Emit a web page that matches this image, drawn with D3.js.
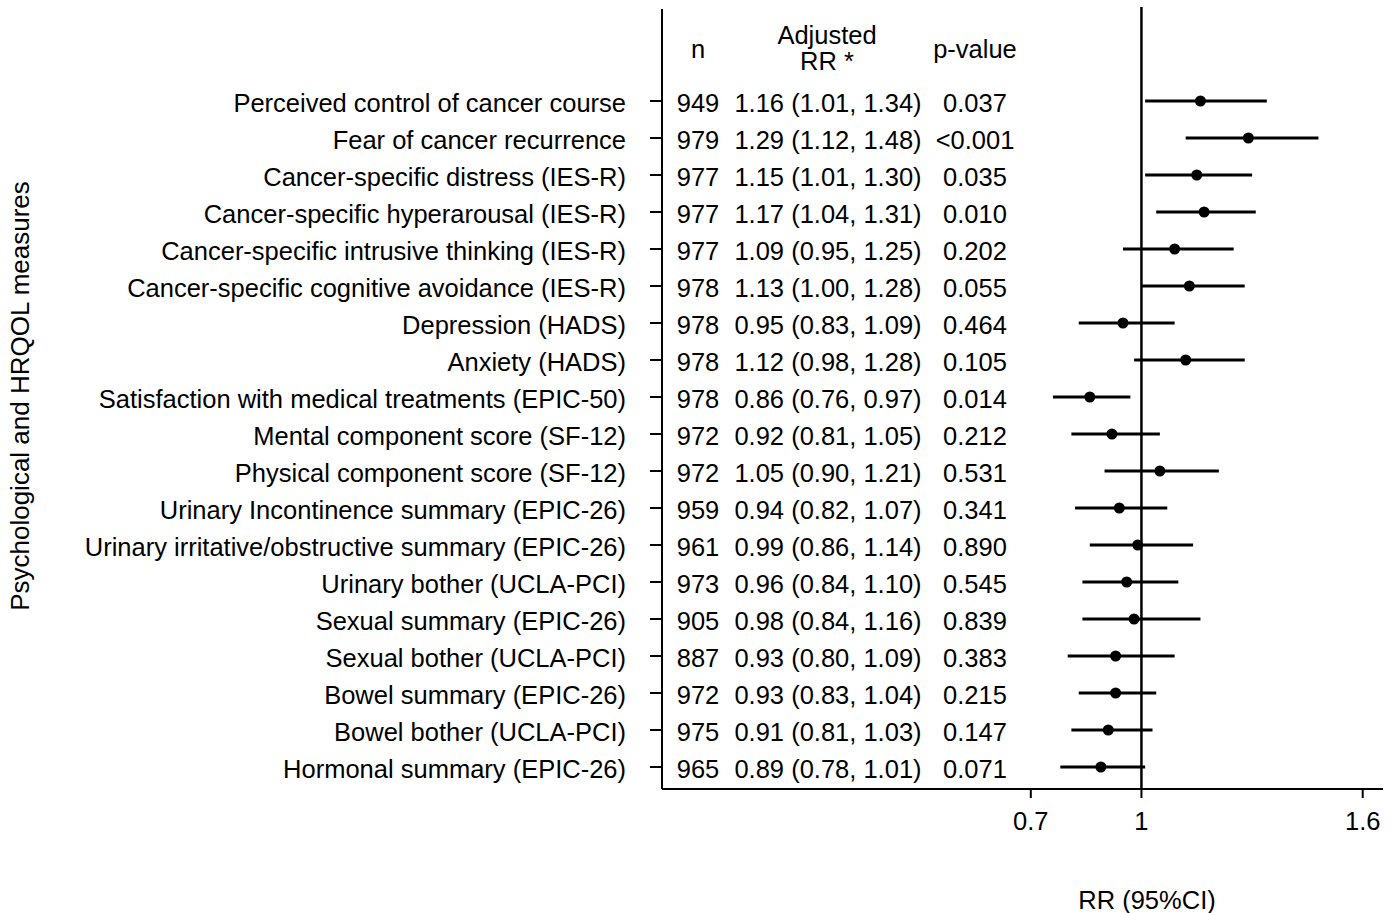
<!DOCTYPE html>
<html>
<head>
<meta charset="utf-8">
<script src="https://cdn.jsdelivr.net/npm/d3@7"></script>
<style>
  body { margin: 0; background: #fff; }
  text { font-family: 'Liberation Sans', Arial, sans-serif; fill: #000; }
</style>
</head>
<body>
<div id="chart"></div>
<script>
const measures = [
  'Perceived control of cancer course',
  'Fear of cancer recurrence',
  'Cancer-specific distress (IES-R)',
  'Cancer-specific hyperarousal (IES-R)',
  'Cancer-specific intrusive thinking (IES-R)',
  'Cancer-specific cognitive avoidance (IES-R)',
  'Depression (HADS)',
  'Anxiety (HADS)',
  'Satisfaction with medical treatments (EPIC-50)',
  'Mental component score (SF-12)',
  'Physical component score (SF-12)',
  'Urinary Incontinence summary (EPIC-26)',
  'Urinary irritative/obstructive summary (EPIC-26)',
  'Urinary bother (UCLA-PCI)',
  'Sexual summary (EPIC-26)',
  'Sexual bother (UCLA-PCI)',
  'Bowel summary (EPIC-26)',
  'Bowel bother (UCLA-PCI)',
  'Hormonal summary (EPIC-26)'
]
const nValues = [949, 979, 977, 977, 977, 978, 978, 978, 978, 972, 972, 959, 961, 973, 905, 887, 972, 975, 965]
const rr = [1.16, 1.29, 1.15, 1.17, 1.09, 1.13, 0.95, 1.12, 0.86, 0.92, 1.05, 0.94, 0.99, 0.96, 0.98, 0.93, 0.93, 0.91, 0.89]
const lower = [1.01, 1.12, 1.01, 1.04, 0.95, 1.00, 0.83, 0.98, 0.76, 0.81, 0.90, 0.82, 0.86, 0.84, 0.84, 0.80, 0.83, 0.81, 0.78]
const upper = [1.34, 1.48, 1.30, 1.31, 1.25, 1.28, 1.09, 1.28, 0.97, 1.05, 1.21, 1.07, 1.14, 1.10, 1.16, 1.09, 1.04, 1.03, 1.01]
const pValues = ['0.037', '<0.001', '0.035', '0.010', '0.202', '0.055', '0.464', '0.105', '0.014', '0.212', '0.531', '0.341', '0.890', '0.545', '0.839', '0.383', '0.215', '0.147', '0.071']
const xTicks = [0.7, 1, 1.6]

const data = measures.map((m, i) => ({
  label: m, n: nValues[i], rr: rr[i], lo: lower[i], hi: upper[i], p: pValues[i]
}))

const width = 1398
const height = 913
const fontSize = 25.5

const svg = d3
  .select('#chart')
  .append('svg')
  .attr('width', width)
  .attr('height', height)

// linear x scale; the axis runs from the y axis to the right end
const xScale = d3.scaleLinear().domain([-0.3, 1.655]).range([662, 1383])

const yScale = d3.scalePoint().domain(measures).range([101, 767])

const axisBottom = 789

// y axis with tick marks on the left
svg.append('line')
  .attr('x1', 662).attr('x2', 662)
  .attr('y1', 9).attr('y2', axisBottom)
  .attr('stroke', '#000').attr('stroke-width', 2)

svg.selectAll('.ytick')
  .data(measures)
  .enter()
  .append('line')
  .attr('class', 'ytick')
  .attr('x1', 650).attr('x2', 662)
  .attr('y1', d => yScale(d)).attr('y2', d => yScale(d))
  .attr('stroke', '#000').attr('stroke-width', 2)

svg.selectAll('.ylabel')
  .data(measures)
  .enter()
  .append('text')
  .attr('class', 'ylabel')
  .attr('x', 626)
  .attr('y', d => yScale(d) + 2)
  .attr('dominant-baseline', 'central')
  .attr('text-anchor', 'end')
  .attr('font-size', fontSize)
  .text(d => d)

// x axis
svg.append('line')
  .attr('x1', 662).attr('x2', 1383)
  .attr('y1', axisBottom).attr('y2', axisBottom)
  .attr('stroke', '#000').attr('stroke-width', 2)

svg.selectAll('.xtick')
  .data(xTicks)
  .enter()
  .append('line')
  .attr('class', 'xtick')
  .attr('x1', d => xScale(d)).attr('x2', d => xScale(d))
  .attr('y1', axisBottom).attr('y2', axisBottom + 9)
  .attr('stroke', '#000').attr('stroke-width', 2)

svg.selectAll('.xlabel')
  .data(xTicks)
  .enter()
  .append('text')
  .attr('class', 'xlabel')
  .attr('x', d => xScale(d))
  .attr('y', 821)
  .attr('dominant-baseline', 'central')
  .attr('text-anchor', 'middle')
  .attr('font-size', fontSize)
  .text(d => d)

// reference line at 1
svg.append('line')
  .attr('x1', xScale(1)).attr('x2', xScale(1))
  .attr('y1', 7).attr('y2', axisBottom)
  .attr('stroke', '#000').attr('stroke-width', 2.5)

// CI lines and points
svg.selectAll('.ci')
  .data(data)
  .enter()
  .append('line')
  .attr('class', 'ci')
  .attr('x1', d => xScale(d.lo)).attr('x2', d => xScale(d.hi))
  .attr('y1', d => yScale(d.label)).attr('y2', d => yScale(d.label))
  .attr('stroke', '#000').attr('stroke-width', 3)

svg.selectAll('.pt')
  .data(data)
  .enter()
  .append('circle')
  .attr('class', 'pt')
  .attr('cx', d => xScale(d.rr))
  .attr('cy', d => yScale(d.label))
  .attr('r', 5.5)
  .attr('fill', '#000')

// table columns
const table = svg.append('g')

table.selectAll('.ncol')
  .data(data)
  .enter()
  .append('text')
  .attr('x', 698)
  .attr('y', d => yScale(d.label) + 2)
  .attr('dominant-baseline', 'central')
  .attr('text-anchor', 'middle')
  .attr('font-size', fontSize)
  .text(d => d.n)

table.selectAll('.rrcol')
  .data(data)
  .enter()
  .append('text')
  .attr('x', 828)
  .attr('y', d => yScale(d.label) + 2)
  .attr('dominant-baseline', 'central')
  .attr('text-anchor', 'middle')
  .attr('font-size', fontSize)
  .text(d => d.rr.toFixed(2) + ' (' + d.lo.toFixed(2) + ', ' + d.hi.toFixed(2) + ')')

table.selectAll('.pcol')
  .data(data)
  .enter()
  .append('text')
  .attr('x', 975)
  .attr('y', d => yScale(d.label) + 2)
  .attr('dominant-baseline', 'central')
  .attr('text-anchor', 'middle')
  .attr('font-size', fontSize)
  .text(d => d.p)

// headers
table.append('text').attr('x', 698).attr('y', 49)
  .attr('dominant-baseline', 'central').attr('text-anchor', 'middle')
  .attr('font-size', fontSize).text('n')
table.append('text').attr('x', 827).attr('y', 35)
  .attr('dominant-baseline', 'central').attr('text-anchor', 'middle')
  .attr('font-size', fontSize).text('Adjusted')
table.append('text').attr('x', 827).attr('y', 61)
  .attr('dominant-baseline', 'central').attr('text-anchor', 'middle')
  .attr('font-size', fontSize).text('RR *')
table.append('text').attr('x', 975).attr('y', 49)
  .attr('dominant-baseline', 'central').attr('text-anchor', 'middle')
  .attr('font-size', fontSize).text('p-value')

// axis titles
svg.append('text')
  .attr('x', 1147).attr('y', 900)
  .attr('dominant-baseline', 'central')
  .attr('text-anchor', 'middle')
  .attr('font-size', fontSize)
  .text('RR (95%CI)')

svg.append('text')
  .attr('transform', 'translate(20,396) rotate(-90)')
  .attr('dominant-baseline', 'central')
  .attr('text-anchor', 'middle')
  .attr('font-size', 26)
  .text('Psychological and HRQOL measures')
</script>
</body>
</html>
